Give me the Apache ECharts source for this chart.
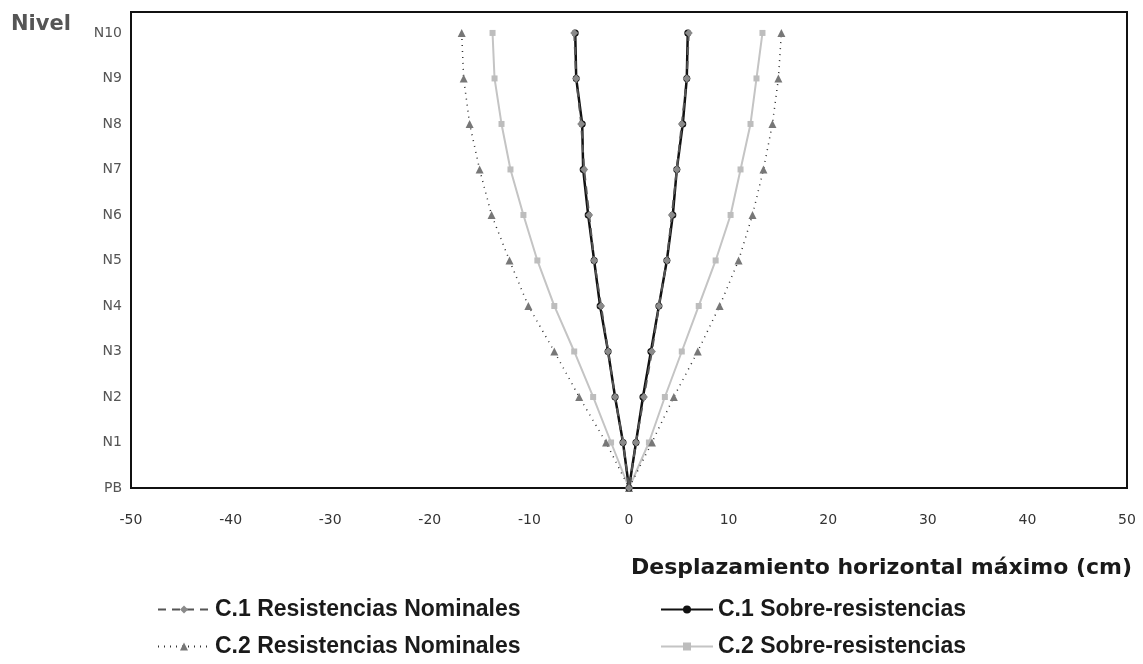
<!DOCTYPE html>
<html>
<head>
<meta charset="utf-8">
<script src="https://cdn.jsdelivr.net/npm/echarts@6/dist/echarts.min.js"></script>
<style>
  html, body { margin: 0; padding: 0; background: #fff; }
  #chart { width: 1143px; height: 664px; }
</style>
</head>
<body>
<div id="chart"></div>
<script>
////////////////////
// data (PB .. N10)
////////////////////
var levels = ['PB', 'N1', 'N2', 'N3', 'N4', 'N5', 'N6', 'N7', 'N8', 'N9', 'N10'];
var xTicks = [-50, -40, -30, -20, -10, 0, 10, 20, 30, 40, 50];

var c1NomLeft  = [0, -0.6, -1.4, -2.1, -2.8, -3.5, -4.0, -4.5, -4.8, -5.3, -5.5];
var c1NomRight = [0, 0.7, 1.5, 2.3, 3.0, 3.8, 4.3, 4.8, 5.3, 5.8, 6.0];
var c1SobLeft  = [0, -0.6, -1.4, -2.1, -2.9, -3.5, -4.1, -4.6, -4.7, -5.3, -5.4];
var c1SobRight = [0, 0.7, 1.4, 2.2, 3.0, 3.8, 4.4, 4.8, 5.4, 5.8, 5.9];
var c2NomLeft  = [0, -2.3, -5.0, -7.5, -10.1, -12.0, -13.8, -15.0, -16.0, -16.6, -16.8];
var c2NomRight = [0, 2.3, 4.5, 6.9, 9.1, 11.0, 12.4, 13.5, 14.4, 15.0, 15.3];
var c2SobLeft  = [0, -1.8, -3.6, -5.5, -7.5, -9.2, -10.6, -11.9, -12.8, -13.5, -13.7];
var c2SobRight = [0, 2.0, 3.6, 5.3, 7.0, 8.7, 10.2, 11.2, 12.2, 12.8, 13.4];

// left branch from N10 down to PB, then right branch back up to N10
function vShape(left, right){
    var pts = [];
    for(var i = left.length - 1; i >= 0; i--) pts.push([left[i], i]);
    for(var j = 1; j < right.length; j++) pts.push([right[j], j]);
    return pts;
}

var FONT = '"Liberation Sans", Arial, sans-serif';
var WIDE = '"DejaVu Sans", Verdana, sans-serif';

var mychart = echarts.init(document.getElementById('chart'));
var chart_option = {
    animation: false,
    grid: { left: 131, right: 16, top: 12, bottom: 176, show: true, borderColor: '#111', borderWidth: 2 },
    title: [
        { text: 'Nivel', left: 6, top: 9,
          textStyle: { fontFamily: WIDE, fontSize: 21, fontWeight: 'bold', color: '#555' } },
        { text: 'Desplazamiento horizontal máximo (cm)', right: 6, top: 552,
          textStyle: { fontFamily: WIDE, fontSize: 22, fontWeight: 'bold', color: '#1a1a1a' } }
    ],
    legend: [
        { orient: 'vertical', left: 152, top: 593, itemGap: 14, itemWidth: 52, itemHeight: 10,
          data: ['C.1 Resistencias Nominales', 'C.2 Resistencias Nominales'],
          textStyle: { fontFamily: FONT, fontSize: 23, fontWeight: 'bold', color: '#1a1a1a' } },
        { orient: 'vertical', left: 655, top: 593, itemGap: 14, itemWidth: 52, itemHeight: 10,
          data: ['C.1 Sobre-resistencias', 'C.2 Sobre-resistencias'],
          textStyle: { fontFamily: FONT, fontSize: 23, fontWeight: 'bold', color: '#1a1a1a' } }
    ],
    xAxis: {
        type: 'value', min: xTicks[0], max: xTicks[xTicks.length - 1], interval: 10,
        axisLine: { show: true, onZero: false, lineStyle: { color: '#111', width: 2 } },
        axisTick: { show: false },
        splitLine: { show: false },
        axisLabel: { margin: 25, fontFamily: WIDE, fontSize: 14, color: '#333' }
    },
    yAxis: {
        type: 'value', min: 0, max: 10.46, interval: 1,
        axisLine: { show: true, onZero: false, lineStyle: { color: '#111', width: 2 } },
        axisTick: { show: false },
        splitLine: { show: false },
        axisLabel: {
            margin: 9, fontFamily: WIDE, fontSize: 14, color: '#555',
            formatter: function(v){ return (Math.abs(v - Math.round(v)) < 1e-6) ? levels[Math.round(v)] : ''; }
        }
    },
    series: [
        {
            name: 'C.2 Sobre-resistencias', type: 'line', data: vShape(c2SobLeft, c2SobRight),
            symbol: 'rect', symbolSize: 6,
            lineStyle: { color: '#c4c4c4', width: 2 },
            itemStyle: { color: '#bdbdbd' }
        },
        {
            name: 'C.2 Resistencias Nominales', type: 'line', data: vShape(c2NomLeft, c2NomRight),
            symbol: 'triangle', symbolSize: 8,
            lineStyle: { color: '#333', width: 1.5, type: [1, 5] },
            itemStyle: { color: '#777' }
        },
        {
            name: 'C.1 Sobre-resistencias', type: 'line', data: vShape(c1SobLeft, c1SobRight),
            symbol: 'circle', symbolSize: 7,
            lineStyle: { color: '#111', width: 2.5 },
            itemStyle: { color: '#111' }
        },
        {
            name: 'C.1 Resistencias Nominales', type: 'line', data: vShape(c1NomLeft, c1NomRight),
            symbol: 'diamond', symbolSize: 8,
            lineStyle: { color: '#555', width: 2, type: [8, 6] },
            itemStyle: { color: '#8a8a8a' }
        }
    ]
};
mychart.setOption(chart_option);
</script>
</body>
</html>
